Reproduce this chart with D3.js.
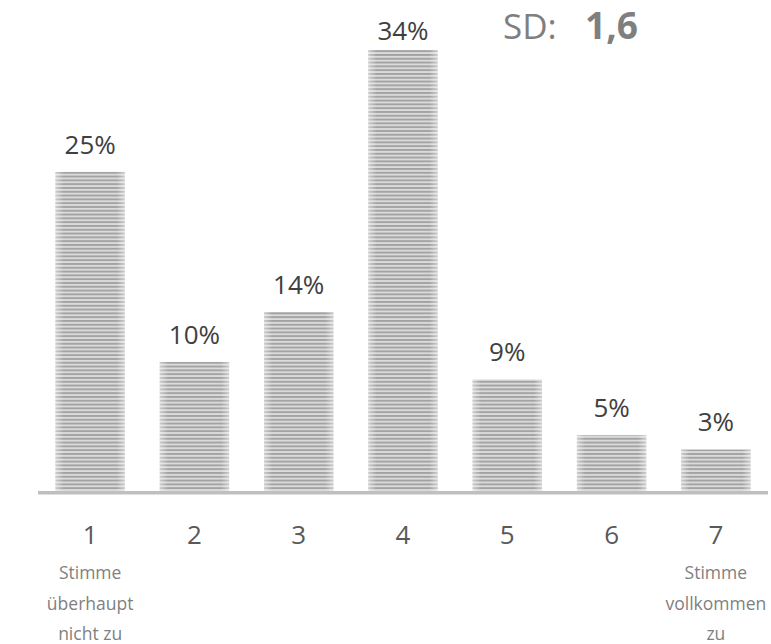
<!DOCTYPE html>
<html><head><meta charset="utf-8">
<script src="https://cdn.jsdelivr.net/npm/d3@7/dist/d3.min.js"></script>
<style>
html,body{margin:0;padding:0;background:#fff;}
svg{display:block;font-family:"Open Sans",sans-serif;}
</style></head>
<body>
<svg id="chart" width="771" height="644"></svg>
<script>
const categories = ["1","2","3","4","5","6","7"];
const values = [24.6, 9.95, 13.8, 34.0, 8.6, 4.3, 3.2];
const valueLabels = ["25%","10%","14%","34%","9%","5%","3%"];
const leftAnchorLines = ["Stimme","überhaupt","nicht zu"];
const rightAnchorLines = ["Stimme","vollkommen","zu"];
const sdLabel = "SD:";
const sdValue = "1,6";

const svg = d3.select("#chart");
const baseY = 491;

const x = d3.scaleBand().domain(categories).range([38, 768]).paddingInner(0.335).paddingOuter(0.1675);
const y = d3.scaleLinear().domain([0, 34]).range([baseY, 50]);

const defs = svg.append("defs");
const pat = defs.append("pattern").attr("id","stripes").attr("patternUnits","userSpaceOnUse")
  .attr("x",0).attr("y",baseY).attr("width",8).attr("height",3.8);
pat.append("rect").attr("width",8).attr("height",3.8).attr("fill","#dadada");
pat.append("rect").attr("width",8).attr("height",1.9).attr("fill","#a3a3a3");

const grad = defs.append("linearGradient").attr("id","edgefade").attr("x1","0").attr("x2","1").attr("y1","0").attr("y2","0");
grad.append("stop").attr("offset","0").attr("stop-color","#fff").attr("stop-opacity",0.45);
grad.append("stop").attr("offset","0.12").attr("stop-color","#fff").attr("stop-opacity",0);
grad.append("stop").attr("offset","0.88").attr("stop-color","#fff").attr("stop-opacity",0);
grad.append("stop").attr("offset","1").attr("stop-color","#fff").attr("stop-opacity",0.45);

const data = categories.map((c,i)=>({c, v:values[i], label:valueLabels[i]}));

const bars = svg.append("g");
bars.selectAll("rect.bar").data(data).join("rect").attr("class","bar")
  .attr("x",d=>x(d.c)).attr("width",x.bandwidth())
  .attr("y",d=>y(d.v)).attr("height",d=>baseY-y(d.v))
  .attr("fill","url(#stripes)");
bars.selectAll("rect.fade").data(data).join("rect").attr("class","fade")
  .attr("x",d=>x(d.c)).attr("width",x.bandwidth())
  .attr("y",d=>y(d.v)).attr("height",d=>baseY-y(d.v))
  .attr("fill","url(#edgefade)");

// value labels
svg.append("g").selectAll("text").data(data).join("text")
  .attr("x",d=>x(d.c)+x.bandwidth()/2)
  .attr("y",d=>Math.max(y(d.v)-18, 40))
  .attr("text-anchor","middle")
  .attr("font-size",26).attr("fill","#404040")
  .text(d=>d.label);

// axis
const xAxis = d3.axisBottom(x).tickSize(0).tickPadding(0);
const axisG = svg.append("g").attr("transform",`translate(0,${baseY+1.8})`).call(xAxis);
axisG.select(".domain").attr("stroke","#bfbfbf").attr("stroke-width",3.6).attr("d","M38,0H768");
axisG.selectAll(".tick text").attr("font-family","'Open Sans',sans-serif")
  .attr("font-size",26).attr("fill","#595959").attr("dy",0).attr("y",51);

// anchor labels
function anchor(lines, cat){
  const g = svg.append("g");
  g.selectAll("text").data(lines).join("text")
    .attr("x", x(cat)+x.bandwidth()/2)
    .attr("y",(d,i)=>579+i*30.5)
    .attr("text-anchor","middle")
    .attr("font-size",17.5).attr("fill","#7f7f7f")
    .text(d=>d);
}
anchor(leftAnchorLines, categories[0]);
anchor(rightAnchorLines, categories[6]);

// SD
svg.append("text").attr("x",503).attr("y",39).attr("font-size",35).attr("fill","#7f7f7f").text(sdLabel);
svg.append("text").attr("x",585).attr("y",39).attr("font-size",37).attr("font-weight","bold").attr("fill","#7f7f7f").text(sdValue);
</script>
</body></html>
